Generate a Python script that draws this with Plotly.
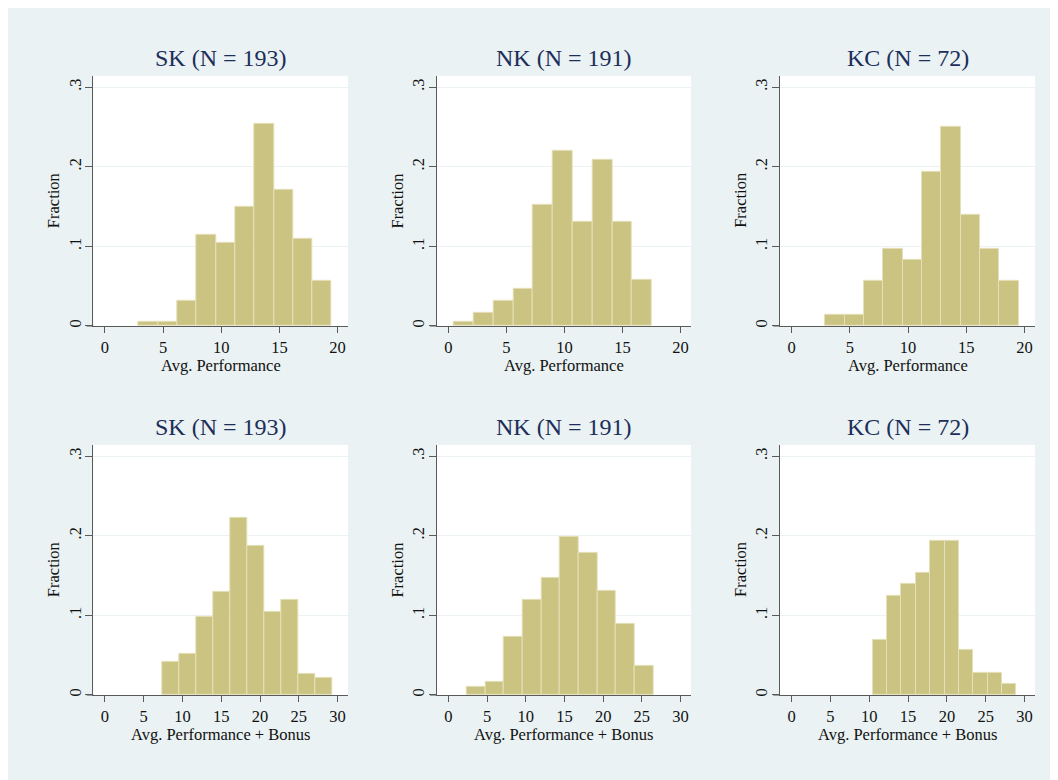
import numpy as np
import plotly.graph_objects as go

# ---------------- data ----------------
panel_titles = ["SK (N = 193)", "NK (N = 191)", "KC (N = 72)",
                "SK (N = 193)", "NK (N = 191)", "KC (N = 72)"]
x_titles = ["Avg. Performance"] * 3 + ["Avg. Performance + Bonus"] * 3

# histogram bins: first edge, last edge (10 equal bins each)
sk_perf_edges = [2.9, 19.5]
nk_perf_edges = [0.49, 17.53]
kc_perf_edges = [2.9, 19.5]
sk_bonus_edges = [7.39, 29.35]
nk_bonus_edges = [2.37, 26.47]
kc_bonus_edges = [10.44, 28.96]

sk_perf_frac = [0.005, 0.005, 0.031, 0.114, 0.104, 0.150, 0.254, 0.171, 0.109, 0.057]
nk_perf_frac = [0.005, 0.016, 0.031, 0.047, 0.152, 0.220, 0.131, 0.209, 0.131, 0.058]
kc_perf_frac = [0.014, 0.014, 0.056, 0.097, 0.083, 0.194, 0.250, 0.139, 0.097, 0.056]
sk_bonus_frac = [0.041, 0.052, 0.098, 0.130, 0.223, 0.187, 0.104, 0.119, 0.026, 0.021]
nk_bonus_frac = [0.010, 0.016, 0.073, 0.120, 0.147, 0.199, 0.178, 0.131, 0.089, 0.037]
kc_bonus_frac = [0.069, 0.125, 0.139, 0.153, 0.194, 0.194, 0.056, 0.028, 0.028, 0.014]

perf_ticks = [0, 5, 10, 15, 20]
bonus_ticks = [0, 5, 10, 15, 20, 25, 30]
y_ticks = [0, 0.1, 0.2, 0.3]
y_ticktext = ["0", ".1", ".2", ".3"]

panels = [
    (sk_perf_edges, sk_perf_frac, perf_ticks),
    (nk_perf_edges, nk_perf_frac, perf_ticks),
    (kc_perf_edges, kc_perf_frac, perf_ticks),
    (sk_bonus_edges, sk_bonus_frac, bonus_ticks),
    (nk_bonus_edges, nk_bonus_frac, bonus_ticks),
    (kc_bonus_edges, kc_bonus_frac, bonus_ticks),
]

# ---------------- layout geometry (pixels in the 1058x780 page) ----------------
OFF = 8            # default page body margin
W, H = 1058 - OFF, 780 - OFF
col_px = [(93.3, 348), (436.7, 691), (780, 1035)]
row_px = [(76, 326.7), (446, 696.7)]
x_range_top = [-1.0, 20.9]
x_range_bot = [-1.5, 31.35]
y_range = [0, 0.3142]

BAR = "#CBC382"
BAR_LINE = "#E4E0B8"
BG = "#EAF2F3"
AXIS = "#5A5A5A"
TITLE_C = "#1C2E5A"
TXT = "#111111"
FONT = "Liberation Serif"

def px_x(p):
    return (p - OFF) / W

def px_y(p):
    return 1 - (p - OFF) / H

fig = go.Figure()
layout = dict(
    width=W, height=H,
    margin=dict(l=0, r=0, t=0, b=0),
    paper_bgcolor=BG,
    plot_bgcolor="white",
    showlegend=False,
    font=dict(family=FONT, size=16, color=TXT),
    bargap=0,
)
annotations = []
shapes = []

for i, (edges, frac, xt) in enumerate(panels):
    r, c = divmod(i, 3)
    n = len(frac)
    bounds = np.linspace(edges[0], edges[1], n + 1)
    centers = (bounds[:-1] + bounds[1:]) / 2
    width = bounds[1] - bounds[0]
    suffix = "" if i == 0 else str(i + 1)
    fig.add_trace(go.Bar(
        x=centers, y=frac, width=width,
        marker=dict(color=BAR, line=dict(color=BAR_LINE, width=1)),
        xaxis="x" + suffix, yaxis="y" + suffix, hoverinfo="x+y",
    ))
    x0p, x1p = col_px[c]
    y0p, y1p = row_px[r]
    layout["xaxis" + suffix] = dict(
        domain=[px_x(x0p), px_x(x1p)], anchor="y" + suffix,
        range=x_range_top if r == 0 else x_range_bot,
        tickvals=xt, ticks="outside", ticklen=6, tickwidth=1.2, tickcolor=AXIS,
        showline=True, linecolor=AXIS, linewidth=1.3,
        showgrid=False, zeroline=False, fixedrange=True,
        tickfont=dict(family=FONT, size=16.5, color=TXT),
    )
    layout["yaxis" + suffix] = dict(
        domain=[px_y(y1p), px_y(y0p)], anchor="x" + suffix,
        range=y_range,
        tickvals=y_ticks, ticktext=y_ticktext, tickangle=-90,
        ticks="outside", ticklen=7, tickwidth=1.2, tickcolor=AXIS,
        ticklabelstandoff=-2,
        showline=True, linecolor=AXIS, linewidth=1.3,
        showgrid=True, gridcolor=BG, gridwidth=1.2, zeroline=False,
        fixedrange=True,
        tickfont=dict(family=FONT, size=16.5, color=TXT),
    )
    # extension of x axis line to the left of the y axis (Stata style)
    shapes.append(dict(type="line", xref="paper", yref="paper",
                       x0=px_x(x0p - 6.7), x1=px_x(x0p), y0=px_y(y1p), y1=px_y(y1p),
                       line=dict(color=AXIS, width=1.3)))
    cx = (x0p + x1p) / 2
    annotations.append(dict(text=panel_titles[i], xref="paper", yref="paper",
                            x=px_x(cx), y=px_y(y0p - 18), xanchor="center", yanchor="middle",
                            showarrow=False,
                            font=dict(family=FONT, size=24, color=TITLE_C)))
    annotations.append(dict(text=x_titles[i], xref="paper", yref="paper",
                            x=px_x(cx), y=px_y(y1p + 40), xanchor="center", yanchor="middle",
                            showarrow=False,
                            font=dict(family=FONT, size=16.5, color=TXT)))
    annotations.append(dict(text="Fraction", xref="paper", yref="paper",
                            x=px_x(x0p - 39), y=px_y((y0p + y1p) / 2),
                            xanchor="center", yanchor="middle", textangle=-90,
                            showarrow=False,
                            font=dict(family=FONT, size=16.5, color=TXT)))

layout["annotations"] = annotations
layout["shapes"] = shapes
fig.update_layout(**layout)
fig.write_html("out.html")
